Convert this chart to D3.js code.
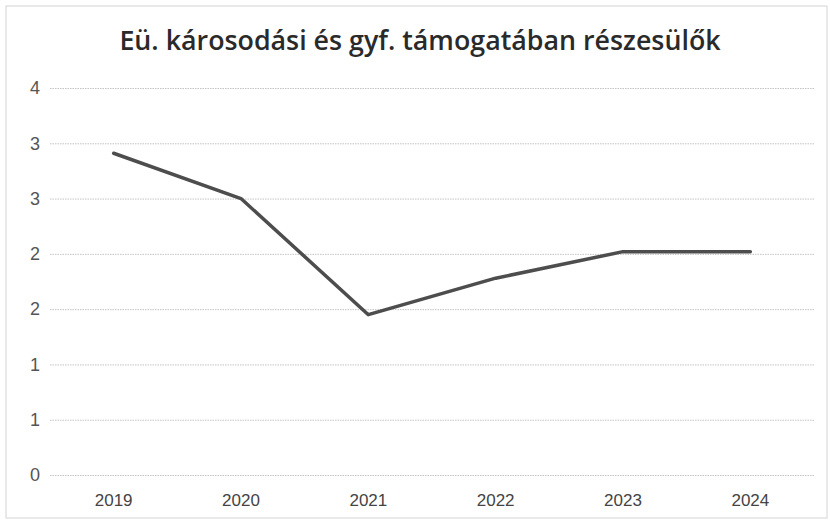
<!DOCTYPE html>
<html><head><meta charset="utf-8">
<script src="https://cdn.jsdelivr.net/npm/d3@7"></script>
<style>body{margin:0;background:#fff;} svg{display:block;}</style>
</head><body>
<svg id="c" width="830" height="526"></svg>
<script>
const title = "Eü. károsodási és gyf. támogatában részesülők";
const years = ["2019","2020","2021","2022","2023","2024"];
const values = [2.91, 2.5, 1.45, 1.78, 2.02, 2.02];
const yTicks = [0, 0.5, 1, 1.5, 2, 2.5, 3, 3.5];
const yTickLabels = ["0","1","1","2","2","3","3","4"];

const svg = d3.select("#c");
const W = 830, H = 526;
const m = {left: 50, right: 16, top: 88, bottom: 51};

// frame
svg.append("rect").attr("x",6).attr("y",6).attr("width",W-9).attr("height",H-14)
  .attr("fill","none").attr("stroke","#d4d4d4").attr("stroke-width",1);

const x = d3.scaleBand().domain(years).range([m.left, W - m.right]);
const y = d3.scaleLinear().domain([0, 3.5]).range([H - m.bottom, m.top]);

// gridlines
const gy = d3.axisLeft(y).tickValues(yTicks).tickSize(-(W - m.right - m.left))
  .tickFormat((d,i) => yTickLabels[i]).tickPadding(10);
const gAxis = svg.append("g").attr("transform",`translate(${m.left},0)`).call(gy);
gAxis.select(".domain").remove();
gAxis.selectAll(".tick line").attr("stroke","#c4c4c4").attr("stroke-dasharray","1.5,1").attr("stroke-width",1);
gAxis.selectAll(".tick text").attr("fill","#555").attr("font-family","Liberation Sans, Arial, sans-serif")
  .attr("font-size",18);

// x axis
const xa = d3.axisBottom(x).tickSize(0).tickPadding(19);
const xg = svg.append("g").attr("transform",`translate(0,${H - m.bottom})`).call(xa);
xg.select(".domain").remove();
xg.selectAll(".tick text").attr("fill","#444").attr("font-family","Liberation Sans, Arial, sans-serif")
  .attr("font-size",17);

// line
const line = d3.line().x((d,i) => x(years[i]) + x.bandwidth()/2).y(d => y(d));
svg.append("path").datum(values).attr("d", line)
  .attr("fill","none").attr("stroke","#4d4d4d").attr("stroke-width",3.5)
  .attr("stroke-linejoin","round").attr("stroke-linecap","round");

// title
svg.append("text").attr("x", 420).attr("y", 50).attr("text-anchor","middle")
  .attr("font-family","'Open Sans', 'Noto Sans', sans-serif").attr("font-weight",600)
  .attr("font-size",26.8).attr("fill","#2a2a2a").text(title);
</script>
</body></html>
